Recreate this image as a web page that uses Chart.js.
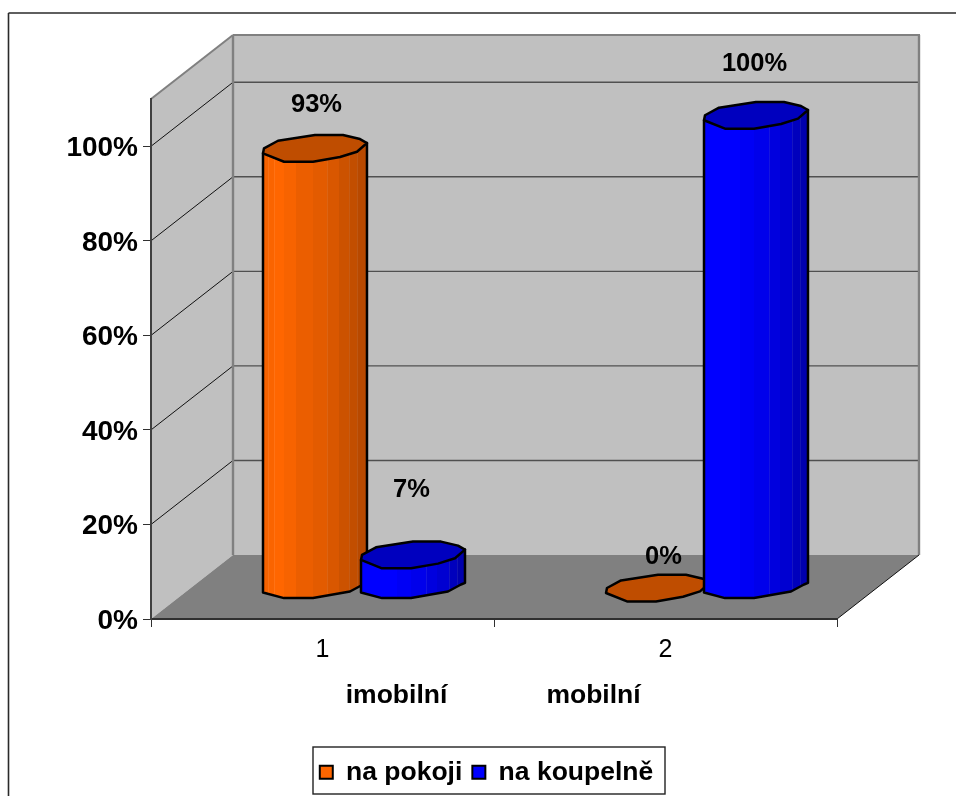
<!DOCTYPE html>
<html>
<head>
<meta charset="utf-8">
<title>na pokoji / na koupelně</title>
<style>
  html, body { margin: 0; padding: 0; background: #fff; }
  canvas { display: block; }
</style>
<script src="https://cdn.jsdelivr.net/npm/chart.js@4/dist/chart.umd.min.js"></script>
</head>
<body>
<canvas id="chart" width="956" height="796"></canvas>
<script>
// Chart values
const categories = ['1', '2'];
const groupNames = ['imobilní', 'mobilní'];
const naPokoji = [93, 0];
const naKoupelne = [7, 100];
const axisMax = 110;
const axisStep = 20;

// Box perspective: how far the back wall sits from the front plane
const DEPTH_X = 82;
const DEPTH_Y = -64;
// Cylinder foot relative to the front plane
const FOOT_X = 41;
const FOOT_Y = -26;

const FONT = '"Liberation Sans", Arial, sans-serif';

// Faceted outline of a cylinder, in px for a 104 px wide column, measured
// from the left edge of the cap
const CAP_OUTLINE = [[0,0],[1,-5],[15,-12.6],[52,-18.3],[80,-18.3],[97,-14.3],[104,-10.3],
                     [94,-1.6],[77,3.7],[50,8.4],[21,8.4]];
const FOOT_OUTLINE = [[104,-9.7],[100,-8],[87,-1],[50,5.6],[21,5.6],[0,0]];

// Side shading per series: facet start, brightness; then the faint seams
const ORANGE = {
  rgb: [255, 102, 0],
  facets: [[0,.96],[5,.98],[11,1],[21,.97],[33,.92],[50,.89],[64,.85],[76,.80],[86,.76],[94,.72]],
  seams: [5, 11, 64, 86, 94]
};
const BLUE = {
  rgb: [0, 0, 255],
  facets: [[0,1],[36,.96],[50,.92],[65,.87],[76,.82],[88,.74],[96,.68]],
  seams: [65, 88, 96]
};
const SERIES_LOOK = [ORANGE, BLUE];

const shade = (rgb, k) => `rgb(${rgb.map(c => Math.round(c * k)).join(',')})`;

function drawCylinder(ctx, bar, look) {
  const left = Math.round(bar.x - bar.width / 2 + FOOT_X);
  const topY = bar.y + FOOT_Y;
  const footY = bar.base + FOOT_Y;
  const w = bar.width;

  ctx.save();
  ctx.lineJoin = 'round';
  ctx.strokeStyle = '#000';
  ctx.lineWidth = 2.5;

  if (footY - topY > 1) {
    const side = new Path2D();
    side.moveTo(left, topY);
    side.lineTo(left + w, topY - 10.3);
    FOOT_OUTLINE.forEach(([dx, dy]) => side.lineTo(left + dx, footY + dy));
    side.closePath();

    ctx.save();
    ctx.clip(side);
    look.facets.forEach(([start, k], i) => {
      const end = i + 1 < look.facets.length ? look.facets[i + 1][0] : 106;
      ctx.fillStyle = shade(look.rgb, k);
      ctx.fillRect(left + start, topY - 20, end - start, footY - topY + 40);
    });
    ctx.fillStyle = 'rgba(255,255,255,0.08)';
    look.seams.forEach(s => ctx.fillRect(left + s, topY - 20, 1, footY - topY + 40));
    ctx.restore();
    ctx.stroke(side);
  }

  ctx.beginPath();
  CAP_OUTLINE.forEach(([dx, dy], i) => {
    if (i) ctx.lineTo(left + dx, topY + dy);
    else ctx.moveTo(left + dx, topY + dy);
  });
  ctx.closePath();
  ctx.fillStyle = shade(look.rgb, 0.75);
  ctx.fill();
  ctx.stroke();
  ctx.restore();
}

// Room behind the columns: floor and walls, with gridlines taken from the value scale
const roomPlugin = {
  id: 'room',
  beforeDraw(chart) {
    const { ctx, chartArea: a, scales } = chart;
    const y = scales.y;
    const line = (x1, y1, x2, y2, color, width) => {
      ctx.strokeStyle = color;
      ctx.lineWidth = width;
      ctx.beginPath();
      ctx.moveTo(x1, y1);
      ctx.lineTo(x2, y2);
      ctx.stroke();
    };
    ctx.save();
    ctx.fillStyle = '#fff';
    ctx.fillRect(0, 0, chart.width, chart.height);

    // Page frame running off the right and bottom edges
    line(8.5, 13, 956, 13, '#2a2a2a', 1.6);
    line(8.5, 13, 8.5, 796, '#2a2a2a', 1.6);

    const bx = a.left + DEPTH_X, bt = a.top + DEPTH_Y, bb = a.bottom + DEPTH_Y, brx = a.right + DEPTH_X;

    ctx.fillStyle = '#c0c0c0';
    ctx.fillRect(bx, bt, brx - bx, bb - bt);
    ctx.beginPath();
    ctx.moveTo(a.left, a.top); ctx.lineTo(bx, bt); ctx.lineTo(bx, bb); ctx.lineTo(a.left, a.bottom);
    ctx.closePath();
    ctx.fill();

    ctx.fillStyle = '#808080';
    ctx.beginPath();
    ctx.moveTo(a.left, a.bottom); ctx.lineTo(bx, bb); ctx.lineTo(brx, bb); ctx.lineTo(a.right, a.bottom);
    ctx.closePath();
    ctx.fill();

    y.ticks.forEach(t => {
      if (t.value === 0) return;
      const py = y.getPixelForValue(t.value);
      line(a.left, py, bx, py + DEPTH_Y, '#111', 1);
      line(bx, py + DEPTH_Y, brx, py + DEPTH_Y, '#505050', 1.4);
    });

    line(a.left, a.top, bx, bt, '#808080', 2);
    line(bx, bt, brx + 1, bt, '#808080', 2);
    line(bx, bt, bx, bb, '#808080', 2.4);
    line(brx, bt, brx, bb, '#808080', 2.4);
    line(a.right, a.bottom, brx, bb, '#111', 1);
    ctx.restore();
  },
  // Columns are painted in series order, left to right, so later ones overlap earlier ones
  beforeDatasetsDraw(chart) {
    chart.data.datasets.forEach((ds, d) => {
      chart.getDatasetMeta(d).data.forEach(bar => drawCylinder(chart.ctx, bar, SERIES_LOOK[d]));
    });
  },
  // The plain bars stay undrawn: the cylinders replace them
  beforeDatasetDraw() {
    return false;
  }
};

// Nudges for the hand-placed value labels, from the point the value reaches
const labelNudges = [
  [[2, -74], [-1, -96]],
  [[6, -62], [-1, -82]]
];

const textPlugin = {
  id: 'texts',
  afterLayout(chart) {
    const lg = chart.legend;
    const h = lg.height;
    lg.left += 68; lg.right += 68;
    lg.top = 749; lg.bottom = lg.top + h;
  },
  afterDatasetsDraw(chart) {
    const { ctx, scales } = chart;
    ctx.save();
    ctx.fillStyle = '#000';
    ctx.textAlign = 'center';
    ctx.textBaseline = 'middle';
    ctx.font = `bold 25.5px ${FONT}`;
    chart.data.datasets.forEach((ds, d) => {
      chart.getDatasetMeta(d).data.forEach((bar, i) => {
        const [nx, ny] = labelNudges[i][d];
        ctx.fillText(ds.data[i] + '%', bar.x + FOOT_X + nx, scales.y.getPixelForValue(ds.data[i]) + ny);
      });
    });
    ctx.restore();
  },
  afterDraw(chart) {
    const { ctx, scales } = chart;
    ctx.save();
    ctx.fillStyle = '#000';
    ctx.textAlign = 'center';
    ctx.textBaseline = 'middle';
    ctx.font = `bold 26.5px ${FONT}`;
    ctx.fillText(groupNames[0], scales.x.getPixelForValue(0) + 74, 696);
    ctx.fillText(groupNames[1], scales.x.getPixelForValue(1) - 72, 696);
    // Legend frame
    ctx.strokeStyle = '#222';
    ctx.lineWidth = 1.4;
    ctx.strokeRect(313, 747, 352, 47);
    ctx.restore();
  }
};

new Chart(document.getElementById('chart'), {
  type: 'bar',
  data: {
    labels: categories,
    datasets: [
      { label: 'na pokoji', data: naPokoji, backgroundColor: shade(ORANGE.rgb, 1), borderColor: '#000', borderWidth: 2 },
      { label: 'na koupelně', data: naKoupelne, backgroundColor: shade(BLUE.rgb, 1), borderColor: '#000', borderWidth: 2 }
    ]
  },
  plugins: [roomPlugin, textPlugin],
  options: {
    responsive: false,
    animation: false,
    events: [],
    categoryPercentage: 0.5714,
    barPercentage: 1.061,
    layout: { padding: { top: 99, right: 119, left: 0, bottom: 0 } },
    plugins: {
      tooltip: { enabled: false },
      title: { display: false },
      legend: {
        position: 'bottom',
        labels: {
          boxWidth: 13,
          boxHeight: 13,
          padding: 10,
          color: '#000',
          font: { family: FONT, size: 26.5, weight: 'bold' }
        }
      }
    },
    scales: {
      x: {
        grid: { drawOnChartArea: false, tickLength: 8, tickColor: '#303030', offset: true },
        border: { color: '#303030', width: 2 },
        ticks: {
          color: '#000',
          maxRotation: 0,
          padding: 8,
          font: { family: FONT, size: 25 }
        },
        afterFit(scale) { scale.height = 177 - scale.chart.legend.height; }
      },
      y: {
        min: 0,
        max: axisMax,
        grid: { drawOnChartArea: false, tickLength: 8, tickColor: '#303030' },
        border: { color: '#404040', width: 2 },
        ticks: {
          stepSize: axisStep,
          includeBounds: false,
          color: '#000',
          padding: 5,
          labelOffset: 2,
          font: { family: FONT, size: 28, weight: 'bold' },
          callback: v => v + '%'
        },
        afterFit(scale) { scale.width = 151; }
      }
    }
  }
});
</script>
</body>
</html>
